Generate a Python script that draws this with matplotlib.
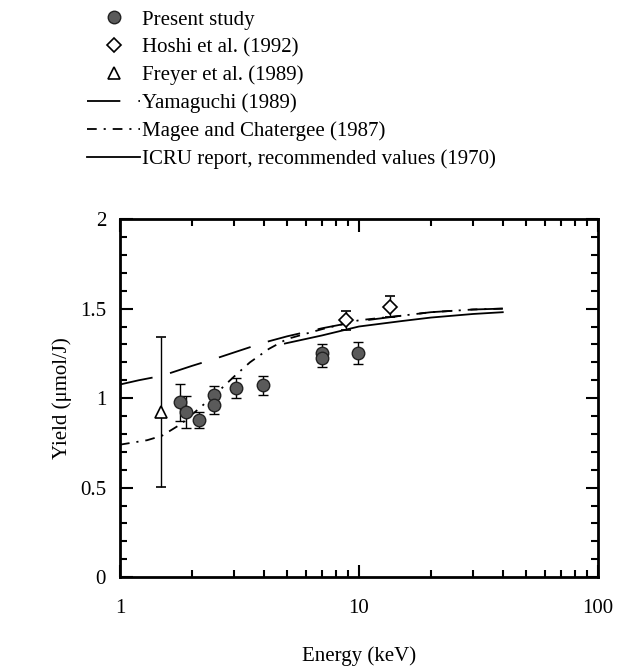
import matplotlib
matplotlib.use("Agg")
import matplotlib.pyplot as plt
import numpy as np
from matplotlib.ticker import FixedLocator, NullFormatter, LogLocator
from matplotlib.lines import Line2D

plt.rcParams['font.family'] = ['Liberation Serif', 'DejaVu Serif']
plt.rcParams['lines.scale_dashes'] = False

# present study
e_ps = [1.79, 1.89, 2.14, 2.47, 2.47, 3.05, 3.97, 7.0, 7.0, 9.9]
y_ps = [0.976, 0.922, 0.879, 1.017, 0.961, 1.058, 1.071, 1.25, 1.225, 1.251]
err_ps = [0.105, 0.09, 0.045, 0.05, 0.05, 0.057, 0.053, 0.05, 0.05, 0.062]

# Hoshi et al. (1992)
e_ho = [8.8, 13.5]
y_ho = [1.434, 1.510]
err_ho = [0.054, 0.058]

# Freyer et al. (1989)
e_fr = [1.49]
y_fr = [0.923]
err_fr = [0.42]

# Yamaguchi (1989)
e_ya = [1, 1.2, 1.5, 2, 2.5, 3, 4, 5, 7, 10, 15, 20, 30, 40]
y_ya = [1.076, 1.10, 1.125, 1.18, 1.22, 1.255, 1.31, 1.345, 1.39, 1.43, 1.46, 1.48, 1.495, 1.50]

# Magee and Chatergee (1987)
e_mc = [1, 1.3, 1.5, 1.8, 2.2, 2.5, 3, 3.5, 4.2, 5, 7, 10, 15, 20, 30, 40]
y_mc = [0.74, 0.765, 0.79, 0.855, 0.955, 1.02, 1.12, 1.20, 1.275, 1.33, 1.385, 1.435, 1.46, 1.48, 1.495, 1.50]

# ICRU (1970)
e_ic = [4.9, 7, 10, 15, 20, 30, 40]
y_ic = [1.305, 1.35, 1.40, 1.43, 1.45, 1.47, 1.48]

labels = ['Present study', 'Hoshi et al. (1992)', 'Freyer et al. (1989)',
          'Yamaguchi (1989)', 'Magee and Chatergee (1987)',
          'ICRU report, recommended values (1970)']

fig = plt.figure(figsize=(6.28, 6.68), dpi=100)
ax = fig.add_axes([0.191, 0.136, 0.761, 0.536])

ps_style = dict(marker='o', mfc='#5a5a5a', mec='#222222', ms=9, mew=1, ls='none')
ho_style = dict(marker='D', mfc='white', mec='k', ms=7, mew=1.2, ls='none')
fr_style = dict(marker='^', mfc='white', mec='k', ms=9, mew=1.2, ls='none')
eb = dict(ecolor='k', capsize=3.5, elinewidth=1, capthick=1)

ax.errorbar(e_ps, y_ps, yerr=err_ps, **ps_style, **eb)
ax.errorbar(e_ho, y_ho, yerr=err_ho, **ho_style, **eb)
ax.errorbar(e_fr, y_fr, yerr=err_fr, **fr_style, **eb)
l_ya, = ax.plot(e_ya, y_ya, color='k', lw=1.3, dashes=[24, 13])
l_mc, = ax.plot(e_mc, y_mc, color='k', lw=1.3, dashes=[7, 5, 1.5, 5])
l_ic, = ax.plot(e_ic, y_ic, color='k', lw=1.3)

ax.set_xscale('log')
ax.set_xlim(1, 100)
ax.set_ylim(0, 2)
ax.set_xticks([1, 10, 100])
ax.set_xticklabels(['1', '10', '100'])
ax.xaxis.set_minor_locator(LogLocator(base=10, subs=np.arange(2, 10)))
ax.xaxis.set_minor_formatter(NullFormatter())
ax.set_yticks([0, 0.5, 1, 1.5, 2])
ax.set_yticklabels(['0', '0.5', '1', '1.5', '2'])
ax.yaxis.set_minor_locator(FixedLocator(np.arange(0, 2.01, 0.1)))
ax.tick_params(which='both', direction='in', top=True, right=True, labelsize=15, width=1.5)
ax.tick_params(which='major', length=9)
ax.tick_params(which='minor', length=5)
ax.tick_params(axis='x', which='major', pad=16)
ax.tick_params(axis='y', which='major', pad=10)
for s in ax.spines.values():
    s.set_linewidth(2)

ax.set_xlabel('Energy (keV)', fontsize=15, labelpad=20)
ax.set_ylabel('Yield (\u03bcmol/J)', fontsize=15, labelpad=6)

handles = [Line2D([], [], **ps_style), Line2D([], [], **ho_style),
           Line2D([], [], **fr_style), l_ya, l_mc, l_ic]
fig.legend(handles, labels,
           loc='upper left', bbox_to_anchor=(0.136, 0.988), frameon=False,
           fontsize=15, handlelength=2.5, handletextpad=0.1, labelspacing=0.39,
           borderpad=0.1, borderaxespad=0)

fig.savefig('out.png', dpi=100)
